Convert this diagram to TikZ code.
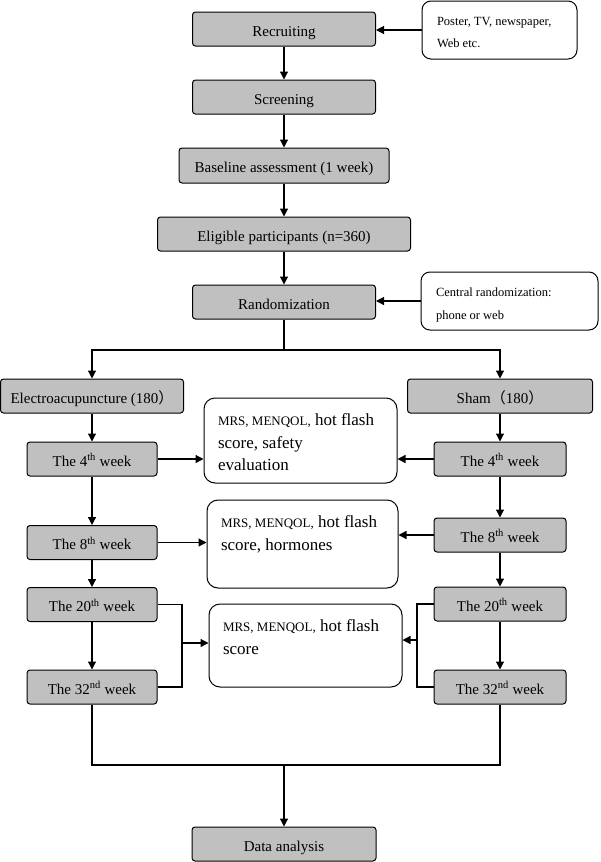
\documentclass[tikz,border=0pt]{standalone}
\usepackage{fontspec}
\setmainfont{Liberation Serif}
\newfontfamily\cjk{Noto Sans CJK SC}
\usetikzlibrary{arrows.meta, positioning}
\definecolor{boxgray}{HTML}{C0C0C0}
\tikzset{
  every picture/.style={x=1pt, y=1pt, line width=1.2pt},
  box/.style={draw, fill=boxgray, rounded corners=3pt, line width=1pt, minimum width=#1pt, minimum height=34pt, inner sep=0pt, text height=14pt, text depth=0pt, font=\fontsize{15}{18}\selectfont},
  box/.default=183,
  note/.style={draw, fill=white, rounded corners=9pt, line width=1pt, inner xsep=15pt, inner ysep=16pt, font=\fontsize{12.5}{22.5}\selectfont},
  outcome/.style={draw, fill=white, rounded corners=11pt, line width=1pt, inner xsep=14pt, inner ysep=16pt, font=\fontsize{17}{22.5}\selectfont},
  arrow/.style={-{Triangle[length=8pt, width=8pt]}, line width=1.2pt},
}
\newcommand{\smalltxt}[1]{{\fontsize{13}{22.5}\selectfont #1}}
\newcommand{\toptext}[3]{\parbox[c][#1pt][t]{#2pt}{\raggedright #3}}

\begin{document}
\begin{tikzpicture}
  \useasboundingbox (0,0) rectangle (600,-862);
  % enrolment
  \node[box] (recruit) at (284,-29) {Recruiting};
  \node[note] (source) at (499.5,-30) {\toptext{26}{125}{Poster, TV, newspaper,\\Web etc.}};
  \node[box] (screen) at (284,-97) {Screening};
  \node[box=210, minimum height=35pt] (baseline) at (284,-165.5) {Baseline assessment (1 week)};
  \node[box=253] (eligible) at (284,-234) {Eligible participants (n=360)};
  \node[box] (random) at (284,-302) {Randomization};
  \node[note] (central) at (509.5,-301) {\toptext{26}{147}{Central randomization:\\phone or web}};
  % two arms
  \node[box] (ea) at (92,-396) {Electroacupuncture (180{\cjk ）}};
  \node[box=185] (sham) at (500,-396) {Sham{\cjk （}180{\cjk ）}};
  \foreach \wk/\suf/\yl/\yr in {4/th/-459/-459, 8/th/-542.5/-535, 20/th/-604.5/-604, 32/nd/-687/-687}{
    \node[box=130] (ea\wk) at (92,\yl) {The \wk\textsuperscript{\suf} week};
    \node[box=132] (sham\wk) at (500,\yr) {The \wk\textsuperscript{\suf} week};
  }
  % outcomes
  \node[outcome] (out1) at (300.5,-440.5) {\toptext{53}{165}{\smalltxt{MRS, MENQOL,} hot flash\\score, safety\\evaluation}};
  \node[outcome] (out2) at (302.5,-544) {\toptext{56}{163}{\smalltxt{MRS, MENQOL,} hot flash\\score, hormones}};
  \node[outcome] (out3) at (305.5,-645.5) {\toptext{51}{165}{\smalltxt{MRS, MENQOL,} hot flash\\score}};
  \node[box=184] (data) at (284,-844) {Data analysis};
  \coordinate (split) at (284,-350);
  \coordinate (joinL) at (182,-643);
  \coordinate (joinR) at (417,-640);
  \coordinate (merge) at (284,-765);
  % connectors
  \draw[arrow] (source.west) -- (source.west -| recruit.east);
  \draw[arrow] (central.west) -- (central.west -| random.east);
  \foreach \a/\b in {recruit/screen, screen/baseline, baseline/eligible, eligible/random,
                     ea/ea4, ea4/ea8, ea8/ea20, ea20/ea32, sham/sham4, sham4/sham8, sham8/sham20, sham20/sham32}
    \draw[arrow] (\a) -- (\b);
  \draw (random.south) -- (split);
  \draw[arrow] (split) -| (ea.north);
  \draw[arrow] (split) -| (sham.north);
  \draw[arrow] (ea4.east) -- (ea4.east -| out1.west);
  \draw[arrow] (sham4.west) -- (sham4.west -| out1.east);
  \draw[arrow] (ea8.east) -- (ea8.east -| out2.west);
  \draw[arrow] (sham8.west) -- (sham8.west -| out2.east);
  \draw (ea20.east) -| (joinL) |- (ea32.east);
  \draw[arrow] (joinL) -- (joinL -| out3.west);
  \draw (sham20.west) -| (joinR) |- (sham32.west);
  \draw[arrow] (joinR) -- (joinR -| out3.east);
  \draw (ea32.south) |- (merge) -| (sham32.south);
  \draw[arrow] (merge) -- (data.north);
\end{tikzpicture}
\end{document}
